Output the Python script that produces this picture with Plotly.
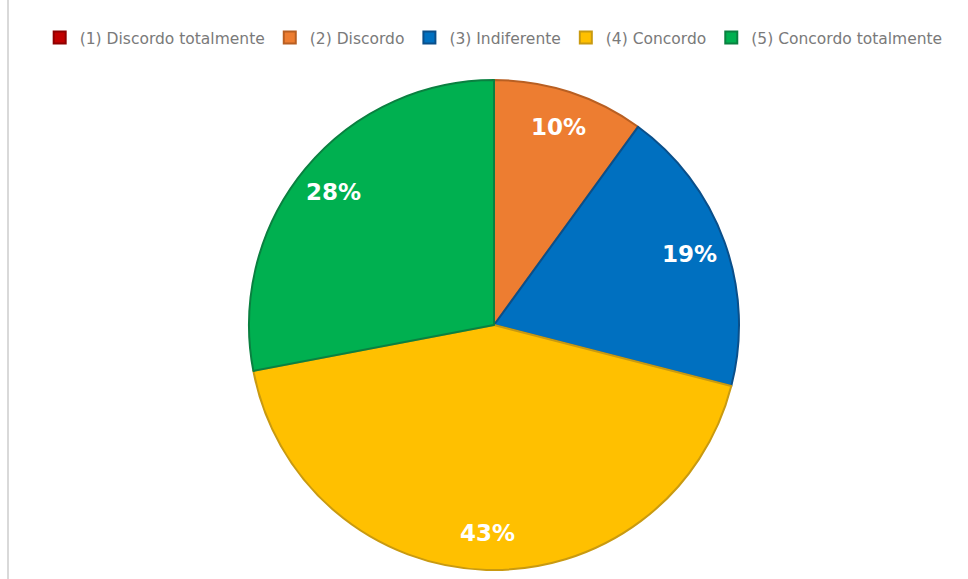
import math
import plotly.graph_objects as go

# Survey answers on a five-point agreement scale
categories = [
    "(1) Discordo totalmente",
    "(2) Discordo",
    "(3) Indiferente",
    "(4) Concordo",
    "(5) Concordo totalmente",
]
percentages = [0, 10, 19, 43, 28]

fill_colors = ["#C00000", "#ED7D31", "#0070C0", "#FFC000", "#00B050"]
edge_colors = ["#8E0000", "#B85F22", "#0A4F8A", "#C99A10", "#0A8040"]

W, H = 968, 579
TOP, BOTTOM = 80, 570      # vertical extent of the pie in pixels
CX = 494                   # horizontal centre in pixels
CY = (TOP + BOTTOM) / 2
R = (BOTTOM - TOP) / 2
LABEL_R = 0.85

fig = go.Figure(
    go.Pie(
        labels=categories,
        values=percentages,
        textinfo="none",
        sort=False,
        direction="clockwise",
        rotation=0,
        marker=dict(colors=fill_colors, line=dict(color=edge_colors, width=2)),
        domain=dict(x=[(CX - R) / W, (CX + R) / W], y=[1 - BOTTOM / H, 1 - TOP / H]),
        hoverinfo="label+percent",
    )
)

# Percentage labels placed toward the outer rim of each slice
total = sum(percentages)
annotations = []
cum = 0
for v in percentages:
    if v > 0:
        mid = (cum + v / 2) / total * 2 * math.pi
        px = CX + LABEL_R * R * math.sin(mid)
        py = CY - LABEL_R * R * math.cos(mid)
        annotations.append(
            dict(
                x=px / W,
                y=1 - py / H,
                xref="paper",
                yref="paper",
                text=f"<b>{v}%</b>",
                showarrow=False,
                font=dict(family="DejaVu Sans", size=23, color="white"),
                xanchor="center",
                yanchor="middle",
            )
        )
    cum += v

fig.update_layout(
    width=W,
    height=H,
    margin=dict(l=0, r=0, t=0, b=0),
    paper_bgcolor="white",
    plot_bgcolor="white",
    showlegend=True,
    legend=dict(
        orientation="h",
        x=0.51,
        xanchor="center",
        y=1 - 38 / H,
        yanchor="middle",
        font=dict(family="DejaVu Sans", size=15.5, color="#7a7a7a"),
        itemwidth=30,
        tracegroupgap=0,
    ),
    annotations=annotations,
    shapes=[
        dict(
            type="line",
            xref="paper",
            yref="paper",
            x0=8 / W,
            x1=8 / W,
            y0=0,
            y1=1,
            line=dict(color="#d9d9d9", width=2),
        )
    ],
)

fig.write_html("out.html")
